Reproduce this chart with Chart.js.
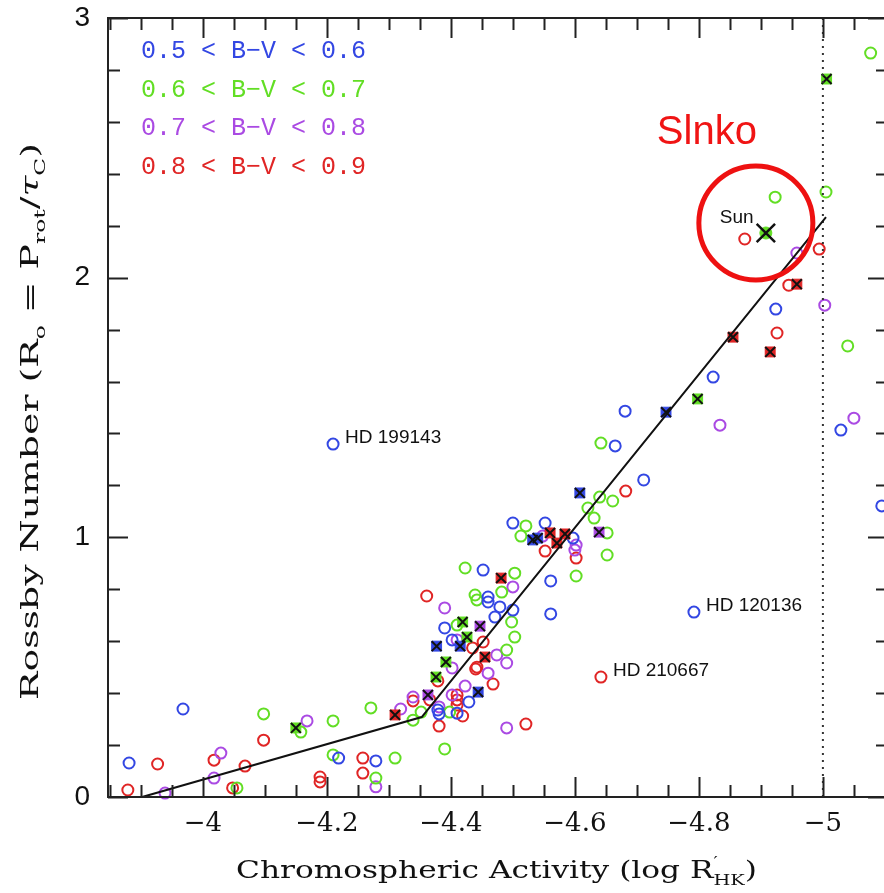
<!DOCTYPE html>
<html>
<head>
<meta charset="utf-8">
<script src="https://cdn.jsdelivr.net/npm/chart.js@4.4.1/dist/chart.umd.min.js"></script>
<style>
    html, body { margin: 0; padding: 0; background: #fff; overflow: hidden; }
    #wrap { width: 884px; height: 893px; overflow: hidden; }
</style>
</head>
<body>
<div id="wrap"><canvas id="chart" width="888" height="893"></canvas></div>
<script>
// ── Data (log R'HK, Rossby number) ─────────────────────────────────────────
const blueOpen = [
    [-3.881, 0.131], [-3.968, 0.339], [-4.219, 0.150], [-4.279, 0.139],
    [-4.381, 0.320], [-4.379, 0.335], [-4.410, 0.323], [-4.429, 0.366],
    [-4.452, 0.874], [-4.460, 0.770], [-4.460, 0.751], [-4.479, 0.732],
    [-4.471, 0.693], [-4.500, 0.720], [-4.390, 0.651], [-4.402, 0.605],
    [-4.500, 1.055], [-4.552, 1.055], [-4.597, 0.997], [-4.561, 0.832],
    [-4.561, 0.705], [-4.681, 1.486], [-4.665, 1.352], [-4.711, 1.221],
    [-4.823, 1.617], [-4.924, 1.879], [-5.029, 1.413], [-5.095, 1.121],
    [-4.210, 1.359], [-4.792, 0.712]
];
const greenOpen = [
    [-4.055, 0.035], [-4.098, 0.320], [-4.158, 0.250], [-4.210, 0.293],
    [-4.210, 0.162], [-4.271, 0.343], [-4.279, 0.073], [-4.310, 0.150],
    [-4.339, 0.296], [-4.352, 0.327], [-4.390, 0.185], [-4.398, 0.327],
    [-4.423, 0.882], [-4.503, 0.862], [-4.439, 0.778], [-4.442, 0.759],
    [-4.482, 0.789], [-4.498, 0.674], [-4.410, 0.662], [-4.490, 0.566],
    [-4.503, 0.616], [-4.521, 1.044], [-4.513, 1.005], [-4.640, 1.155],
    [-4.661, 1.140], [-4.621, 1.113], [-4.631, 1.074], [-4.652, 1.017],
    [-4.652, 0.932], [-4.602, 0.851], [-4.642, 1.363], [-4.923, 2.310],
    [-5.005, 2.330], [-5.040, 1.737], [-5.077, 2.865]
];
const purpleOpen = [
    [-3.939, 0.015], [-4.029, 0.169], [-4.018, 0.073], [-4.168, 0.293],
    [-4.279, 0.039], [-4.319, 0.339], [-4.339, 0.385], [-4.381, 0.347],
    [-4.402, 0.393], [-4.423, 0.427], [-4.460, 0.477], [-4.490, 0.266],
    [-4.402, 0.497], [-4.490, 0.516], [-4.390, 0.728], [-4.500, 0.809],
    [-4.410, 0.605], [-4.474, 0.547], [-4.548, 1.005], [-4.602, 0.970],
    [-4.600, 0.951], [-4.834, 1.432], [-5.050, 1.459], [-4.958, 2.095],
    [-5.003, 1.894]
];
const redOpen = [
    [-3.879, 0.027], [-3.927, 0.127], [-4.018, 0.142], [-4.048, 0.035],
    [-4.068, 0.119], [-4.098, 0.219], [-4.189, 0.077], [-4.189, 0.058],
    [-4.258, 0.150], [-4.258, 0.092], [-4.339, 0.370], [-4.379, 0.447],
    [-4.366, 0.374], [-4.381, 0.273], [-4.410, 0.393], [-4.410, 0.374],
    [-4.410, 0.354], [-4.419, 0.312], [-4.440, 0.493], [-4.468, 0.435],
    [-4.361, 0.774], [-4.435, 0.574], [-4.452, 0.597], [-4.442, 0.500],
    [-4.521, 0.281], [-4.552, 0.947], [-4.602, 0.920], [-4.682, 1.178],
    [-4.874, 2.149], [-4.994, 2.110], [-4.945, 1.971], [-4.926, 1.787],
    [-4.642, 0.462]
];
// stars marked with a cross
const blueCross = [
    [-4.377, 0.581], [-4.415, 0.581], [-4.444, 0.404], [-4.532, 0.990],
    [-4.540, 0.997], [-4.608, 1.171], [-4.747, 1.482]
];
const greenCross = [
    [-4.150, 0.266], [-4.376, 0.462], [-4.392, 0.520], [-4.419, 0.674],
    [-4.426, 0.616], [-4.798, 1.533], [-5.006, 2.765]
];
const purpleCross = [[-4.363, 0.393], [-4.447, 0.658], [-4.639, 1.020]];
const redCross = [
    [-4.310, 0.316], [-4.481, 0.843], [-4.455, 0.539], [-4.560, 1.017],
    [-4.571, 0.978], [-4.584, 1.013], [-4.855, 1.771], [-4.915, 1.714],
    [-4.958, 1.975]
];
const sunPoint = [[-4.908, 2.172]];
const fitLine = [[-3.902, 0], [-4.353, 0.308], [-5.005, 2.233]];
const limitLine = [[-5, 0], [-5, 3]];

const starNames = ['HD 199143', 'HD 120136', 'HD 210667'];
const starPoints = [[-4.210, 1.359], [-4.792, 0.712], [-4.642, 0.462]];

const legendLabels = ['0.5 < B\u2212V < 0.6', '0.6 < B\u2212V < 0.7', '0.7 < B\u2212V < 0.8', '0.8 < B\u2212V < 0.9'];
const xTickValues = [-4, -4.2, -4.4, -4.6, -4.8, -5];
const xTickLabels = ['\u22124', '\u22124.2', '\u22124.4', '\u22124.6', '\u22124.8', '\u22125'];
const yTickValues = [0, 1, 2, 3];
const yTickLabels = ['0', '1', '2', '3'];

const BLUE = '#3347e3';
const GREEN = '#62de24';
const PURPLE = '#aa4ae3';
const RED = '#e02525';
const colors = [BLUE, GREEN, PURPLE, RED];

function pts(a) {
    return a.map(function (p) { return { x: p[0], y: p[1] }; });
}

function openSet(data, color) {
    return {
        data: pts(data), pointStyle: 'circle', pointRadius: 5.5,
        borderColor: color, backgroundColor: 'rgba(0,0,0,0)', pointBorderWidth: 2, order: 6,
    };
}
function squareSet(data, color) {
    return {
        data: pts(data), pointStyle: 'rect', pointRadius: 7,
        borderColor: color, backgroundColor: color, pointBorderWidth: 1, order: 5,
    };
}

const allCross = blueCross.concat(greenCross, purpleCross, redCross);

// ── Frame, inward ticks, texts ───────────────────────────────────────────
function drawRich(ctx, parts, size, family, x, y, width) {
    let total = 0;
    parts.forEach(function (p) {
        const s = p.sub ? size * 0.62 : size;
        ctx.font = (p.italic ? 'italic ' : '') + s + 'px ' + family;
        p.w = ctx.measureText(p.t).width;
        total += p.w;
    });
    ctx.save();
    ctx.translate(x, y);
    ctx.scale(width / total, 1);
    let cx = 0;
    parts.forEach(function (p) {
        const s = p.sub ? size * 0.62 : size;
        ctx.font = (p.italic ? 'italic ' : '') + s + 'px ' + family;
        ctx.fillText(p.t, cx, p.sub ? size * 0.28 : 0);
        if (p.prime) {
            ctx.font = size * 0.6 + 'px ' + family;
            ctx.fillText('\u2032', cx, -size * 0.45);
        }
        cx += p.w;
    });
    ctx.restore();
}

const framePlugin = {
    id: 'frame',
    afterDraw: function (chart) {
        const ctx = chart.ctx;
        const a = chart.chartArea;
        const xs = chart.scales.x;
        const ys = chart.scales.y;
        ctx.save();
        ctx.strokeStyle = '#222';
        ctx.lineWidth = 2;
        ctx.strokeRect(a.left, a.top, a.right - a.left, a.bottom - a.top);

        ctx.beginPath();
        for (let i = 77; i <= 102; i++) {
            const v = -i * 0.05;
            const px = Math.round(xs.getPixelForValue(v)) + 0.5;
            if (px <= a.left + 2 || px >= a.right - 2) continue;
            const len = i % 4 === 0 ? 20 : 12;
            ctx.moveTo(px, a.bottom); ctx.lineTo(px, a.bottom - len);
            ctx.moveTo(px, a.top); ctx.lineTo(px, a.top + len);
        }
        for (let i = 0; i <= 15; i++) {
            const py = Math.round(ys.getPixelForValue(i * 0.2)) + 0.5;
            const len = i % 5 === 0 ? 20 : 12;
            ctx.moveTo(a.left, py); ctx.lineTo(a.left + len, py);
            ctx.moveTo(a.right, py); ctx.lineTo(a.right - len, py);
        }
        ctx.stroke();

        // legend
        ctx.font = '25px "Liberation Mono", monospace';
        ctx.textBaseline = 'alphabetic';
        legendLabels.forEach(function (t, k) {
            ctx.fillStyle = colors[k];
            ctx.fillText(t, 141, 58 + k * 38.7);
        });

        // star names
        ctx.fillStyle = '#111';
        ctx.font = '19px "Liberation Sans", Arial, sans-serif';
        ctx.textBaseline = 'middle';
        starNames.forEach(function (t, k) {
            const px = xs.getPixelForValue(starPoints[k][0]);
            const py = ys.getPixelForValue(starPoints[k][1]);
            ctx.fillText(t, px + 12, py - 6);
        });

        // Sun label, circle and Slnko
        const sx = xs.getPixelForValue(sunPoint[0][0]);
        const sy = ys.getPixelForValue(sunPoint[0][1]);
        ctx.textBaseline = 'alphabetic';
        ctx.font = '19px "Liberation Sans", Arial, sans-serif';
        ctx.fillText('Sun', sx - 46, sy - 10);
        ctx.strokeStyle = '#ee1111';
        ctx.lineWidth = 5;
        ctx.beginPath();
        ctx.arc(sx - 10, sy - 10, 57, 0, Math.PI * 2);
        ctx.stroke();
        ctx.fillStyle = '#f01414';
        ctx.font = '40px "Liberation Sans", Arial, sans-serif';
        ctx.fillText('Slnko', sx - 109, sy - 89);

        // axis titles
        ctx.fillStyle = '#111';
        drawRich(ctx, [
            { t: 'Chromospheric Activity (log R' },
            { t: 'HK', sub: true, prime: true },
            { t: ')' },
        ], 24, '"DejaVu Serif", serif', 236, 878, 521);

        ctx.save();
        ctx.translate(38, 700);
        ctx.rotate(-Math.PI / 2);
        drawRich(ctx, [
            { t: 'Rossby Number (R' },
            { t: 'o', sub: true },
            { t: ' = P' },
            { t: 'rot', sub: true },
            { t: '/' },
            { t: '\u03c4', italic: true },
            { t: 'C', sub: true },
            { t: ')' },
        ], 24, '"DejaVu Serif", serif', 0, 0, 557);
        ctx.restore();
        ctx.restore();
    },
};

new Chart(document.getElementById('chart'), {
    type: 'scatter',
    data: {
        datasets: [
            {
                data: pts(fitLine), showLine: true, borderColor: '#111', borderWidth: 2,
                pointRadius: 0, order: 1,
            },
            {
                data: pts(limitLine), showLine: true, borderColor: '#333', borderWidth: 2,
                borderDash: [2, 5], pointRadius: 0, order: 2,
            },
            {
                data: pts(sunPoint), pointStyle: 'crossRot', pointRadius: 13,
                borderColor: '#111', pointBorderWidth: 2.5, order: 0,
            },
            {
                data: pts(sunPoint), pointStyle: 'circle', pointRadius: 6,
                borderColor: GREEN, backgroundColor: GREEN, order: 0.5,
            },
            {
                data: pts(allCross), pointStyle: 'crossRot', pointRadius: 7,
                borderColor: '#111', pointBorderWidth: 2, order: 3,
            },
            squareSet(blueCross, BLUE),
            squareSet(greenCross, GREEN),
            squareSet(purpleCross, PURPLE),
            squareSet(redCross, RED),
            openSet(blueOpen, BLUE),
            openSet(greenOpen, GREEN),
            openSet(purpleOpen, PURPLE),
            openSet(redOpen, RED),
        ],
    },
    options: {
        responsive: false,
        animation: false,
        clip: false,
        layout: { autoPadding: false, padding: { top: 18, left: 0, right: 0, bottom: 0 } },
        plugins: { legend: { display: false }, tooltip: { enabled: false } },
        scales: {
            x: {
                type: 'linear',
                min: -5.105,
                max: -3.847,
                reverse: true,
                grid: { display: false, drawTicks: false },
                border: { display: false },
                afterFit: function (s) {
                    s.height = 96;
                    s.paddingLeft = 0; s.paddingRight = 0;
                },
                afterBuildTicks: function (s) {
                    s.ticks = xTickValues.map(function (v) { return { value: v }; });
                },
                ticks: {
                    autoSkip: false,
                    maxRotation: 0,
                    padding: 12,
                    color: '#111',
                    font: { family: '"DejaVu Serif", serif', size: 26 },
                    callback: function (v) {
                        const k = xTickValues.indexOf(v);
                        return k >= 0 ? xTickLabels[k] : '';
                    },
                },
            },
            y: {
                min: 0,
                max: 3,
                grid: { display: false, drawTicks: false },
                border: { display: false },
                afterFit: function (s) {
                    s.width = 108;
                    s.paddingTop = 0; s.paddingBottom = 0;
                },
                afterBuildTicks: function (s) {
                    s.ticks = yTickValues.map(function (v) { return { value: v }; });
                },
                ticks: {
                    padding: 18,
                    color: '#111',
                    font: { family: '"Liberation Sans", Arial, sans-serif', size: 28 },
                    callback: function (v) {
                        const k = yTickValues.indexOf(v);
                        return k >= 0 ? yTickLabels[k] : '';
                    },
                },
            },
        },
    },
    plugins: [framePlugin],
});
</script>
</body>
</html>
